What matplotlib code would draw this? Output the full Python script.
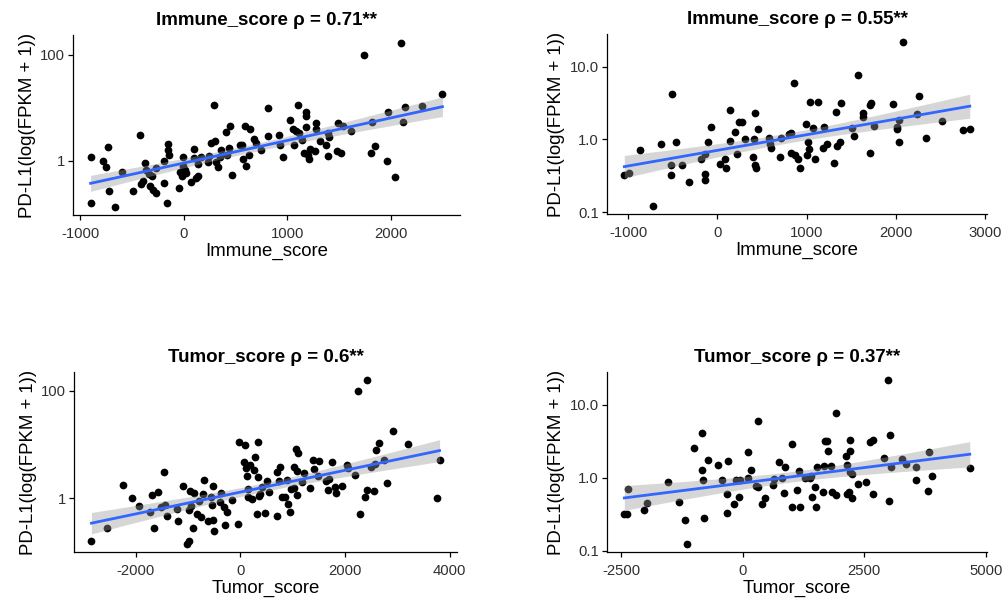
import numpy as np
import matplotlib
matplotlib.use("Agg")
import matplotlib.pyplot as plt
from matplotlib.ticker import FixedLocator, FixedFormatter, NullLocator

plt.rcParams['font.family'] = ['Liberation Sans', 'DejaVu Sans']
plt.rcParams['axes.unicode_minus'] = False

# ---- cohort A: immune score vs PD-L1 ----
immune_a = [-898, -898, -775, -749, -727, -717, -662, -598, -488, -423, -410, -391,
            -372, -359, -333, -326, -307, -294, -268, -268, -194, -191, -162, -152,
            -152, -145, -48, -36, -16, -10, 10, 23, -3, 74, 100, 103, 120, 139, 142,
            168, 239, 249, 268, 297, 304, 313, 333, 346, 362, 404, 420, 436, 452, 462,
            539, 565, 572, 591, 604, 630, 636, 675, 701, 746, 814, 817, 924, 931, 963,
            1030, 1056, 1062, 1088, 1101, 1114, 1140, 1159, 1179, 1185, 1185, 1198,
            1211, 1224, 1263, 1276, 1276, 1315, 1370, 1389, 1396, 1402, 1476, 1486,
            1518, 1541, 1612, 1741, 1806, 1815, 1851, 1961, 1970, 2041, 2093, 2116,
            2132, 2300, 2497]
pdl1_immune_a = [1.16, 0.16, 0.97, 0.75, 1.78, 0.27, 0.135, 0.60, 0.27, 3.0, 0.36, 0.41,
                 0.90, 0.68, 0.57, 0.33, 0.51, 0.28, 0.245, 0.73, 0.38, 0.97, 0.16, 2.1,
                 1.6, 1.26, 0.30, 0.60, 0.51, 1.2, 0.68, 0.58, 0.78, 0.39, 1.12, 1.7,
                 0.47, 0.51, 0.88, 1.17, 0.94, 1.21, 2.15, 11.2, 2.4, 0.93, 0.75, 1.2,
                 1.57, 3.5, 1.3, 1.73, 4.6, 0.54, 2.0, 1.95, 1.07, 4.6, 0.78, 1.3, 3.96,
                 2.6, 2.15, 1.57, 9.9, 2.9, 3.1, 1.95, 1.16, 5.8, 4.0, 2.0, 3.7, 11.1,
                 3.3, 2.5, 1.4, 7.1, 8.4, 4.3, 1.3, 1.07, 1.7, 1.5, 5.1, 4.0, 2.4, 2.0,
                 3.3, 1.24, 2.8, 1.5, 5.1, 1.4, 4.6, 3.6, 100, 1.4, 5.3, 1.9, 0.97, 8.2,
                 0.50, 166, 5.3, 10.4, 10.7, 18.1]

# ---- cohort B: immune score vs PD-L1 ----
immune_b = [-1042, -986, -867, -718, -633, -521, -514, -506, -465, -391, -313, -179,
            -141, -141, -141, -104, -67, 30, 82, 97, 138, 145, 197, 223, 242, 275,
            309, 402, 409, 421, 428, 435, 458, 577, 595, 607, 700, 718, 800, 823, 830,
            860, 875, 904, 923, 990, 1005, 1020, 1031, 1038, 1072, 1090, 1124, 1180,
            1191, 1228, 1303, 1329, 1340, 1370, 1385, 1507, 1537, 1571, 1630, 1638,
            1712, 1712, 1720, 1757, 1965, 2010, 2017, 2032, 2040, 2084, 2241, 2259,
            2337, 2516, 2754, 2829]
pdl1_immune_b = [0.32, 0.35, 0.71, 0.122, 0.85, 0.45, 0.32, 4.2, 0.91, 0.44, 0.26, 0.54,
                 0.62, 0.33, 0.28, 0.93, 1.46, 0.46, 0.54, 0.40, 0.96, 2.5, 1.27, 0.63,
                 1.75, 1.71, 1.0, 0.58, 1.0, 2.28, 0.44, 0.41, 1.39, 1.03, 0.86, 0.76,
                 0.57, 1.04, 1.18, 1.24, 0.64, 5.9, 0.60, 0.54, 0.40, 1.63, 0.60, 0.93,
                 0.74, 3.3, 1.42, 0.54, 3.3, 0.75, 1.46, 0.86, 0.47, 2.35, 0.82, 0.93,
                 3.2, 1.42, 1.1, 7.7, 2.3, 2.0, 3.0, 0.65, 3.2, 1.54, 3.1, 1.48, 1.39,
                 0.93, 1.87, 21.6, 2.23, 3.9, 1.03, 1.8, 1.36, 1.4]

# ---- cohort A: tumor score vs PD-L1 ----
tumor_a = [-2851, -2547, -2249, -2078, -1939, -1730, -1692, -1647, -1571, -1521, -1470,
           -1439, -1413, -1223, -1191, -1096, -1014, -982, -982, -963, -938, -906, -887,
           -823, -792, -760, -716, -690, -621, -564, -545, -532, -526, -513, -386, -367,
           -317, -304, -266, -158, -51, -32, 70, 89, 108, 127, 139, 146, 190, 222, 253,
           272, 317, 336, 336, 348, 380, 412, 463, 507, 551, 697, 703, 729, 760, 792,
           855, 887, 906, 938, 963, 1020, 1033, 1058, 1077, 1083, 1096, 1172, 1210,
           1330, 1394, 1413, 1489, 1501, 1628, 1666, 1692, 1742, 1806, 1818, 1945, 2046,
           2059, 2186, 2249, 2294, 2376, 2414, 2427, 2490, 2553, 2566, 2598, 2642, 2743,
           2801, 2908, 3212, 3751, 3808]
pdl1_tumor_a = [0.16, 0.28, 1.78, 0.99, 0.72, 0.56, 1.15, 0.28, 1.28, 0.67, 3.0, 0.75,
                0.47, 0.62, 0.38, 1.65, 0.14, 0.16, 0.60, 1.37, 0.72, 0.28, 1.22, 0.50,
                0.87, 0.45, 1.19, 2.18, 0.37, 1.03, 0.74, 1.65, 0.39, 0.24, 0.83, 1.22,
                0.67, 0.32, 0.54, 0.92, 0.33, 11.1, 4.7, 9.6, 3.65, 2.55, 1.47, 1.06, 4.2,
                0.96, 3.35, 5.8, 0.50, 11.2, 2.44, 1.11, 1.19, 1.58, 0.52, 2.05, 1.31,
                0.47, 3.1, 2.1, 3.8, 1.03, 1.06, 2.18, 0.79, 0.55, 1.47, 1.54, 3.87, 8.3,
                3.25, 1.15, 6.9, 1.97, 2.9, 1.52, 5.2, 3.5, 2.62, 5.0, 2.05, 1.41, 2.27,
                4.7, 1.58, 1.24, 1.70, 4.2, 3.65, 2.7, 98.6, 0.50, 1.06, 158, 1.41, 3.87,
                1.37, 4.3, 7.9, 10.6, 5.2, 1.88, 17.8, 10.4, 0.99, 5.2]

# ---- cohort B: tumor score vs PD-L1 ----
tumor_b = [-2434, -2386, -2352, -2032, -1977, -1534, -1309, -1180, -1139, -1009, -839,
           -839, -811, -798, -716, -511, -430, -327, -327, -307, -170, -143, -82, -48,
           102, 116, 170, 273, 314, 314, 389, 457, 614, 648, 750, 805, 852, 880, 1016,
           1016, 1111, 1166, 1180, 1275, 1384, 1411, 1432, 1480, 1514, 1520, 1657, 1677,
           1684, 1725, 1752, 1820, 1841, 1909, 1923, 2120, 2148, 2148, 2189, 2202, 2216,
           2216, 2243, 2250, 2366, 2543, 2611, 2679, 2679, 2911, 2979, 3007, 3034, 3048,
           3272, 3361, 3566, 3572, 3804, 3838, 3893, 4670]
pdl1_tumor_b = [0.32, 0.32, 0.71, 0.36, 0.45, 0.86, 0.46, 0.265, 0.124, 2.53, 1.26, 4.15,
                0.93, 0.28, 1.73, 1.48, 0.93, 0.59, 0.33, 1.71, 0.44, 0.93, 0.54, 0.93,
                1.0, 2.27, 1.26, 0.77, 5.9, 0.75, 0.43, 0.53, 0.79, 0.96, 1.66, 1.0, 0.62,
                1.40, 2.9, 0.40, 0.68, 1.24, 0.40, 0.98, 1.0, 1.07, 0.54, 0.75, 0.40, 1.40,
                0.64, 1.45, 3.15, 3.19, 2.35, 1.43, 0.64, 0.57, 7.6, 2.0, 1.48, 0.59, 0.63,
                3.26, 2.3, 1.2, 1.11, 0.53, 0.81, 0.86, 3.12, 3.26, 0.60, 1.86, 21.7, 0.48,
                3.85, 1.40, 1.82, 1.56, 1.40, 0.93, 0.66, 2.23, 1.04, 1.37]

titles = ["Immune_score \u03c1 = 0.71**", "Immune_score \u03c1 = 0.55**",
          "Tumor_score \u03c1 = 0.6**", "Tumor_score \u03c1 = 0.37**"]
xlabels = ["Immune_score", "Immune_score", "Tumor_score", "Tumor_score"]
ylabel = "PD-L1(log(FPKM + 1))"
xticks = [[-1000, 0, 1000, 2000], [-1000, 0, 1000, 2000, 3000],
          [-2000, 0, 2000, 4000], [-2500, 0, 2500, 5000]]
yticks_a = [1, 100]
ytick_labels_a = ["1", "100"]
yticks_b = [0.1, 1, 10]
ytick_labels_b = ["0.1", "1.0", "10.0"]

panels = [
    (immune_a, pdl1_immune_a, yticks_a, ytick_labels_a),
    (immune_b, pdl1_immune_b, yticks_b, ytick_labels_b),
    (tumor_a, pdl1_tumor_a, yticks_a, ytick_labels_a),
    (tumor_b, pdl1_tumor_b, yticks_b, ytick_labels_b),
]

# axes rectangles in figure fractions (left, bottom, width, height)
rects = [
    (0.0725, 0.6417, 0.3843, 0.300),
    (0.6028, 0.6433, 0.3774, 0.300),
    (0.0735, 0.0800, 0.3803, 0.300),
    (0.6028, 0.0800, 0.3774, 0.300),
]

fig = plt.figure(figsize=(10.07, 6.0), dpi=100)

for i, ((xv, yv, yt, ytl), rect) in enumerate(zip(panels, rects)):
    ax = fig.add_axes(rect)
    x = np.asarray(xv, dtype=float)
    y = np.asarray(yv, dtype=float)
    ly = np.log10(y)

    # least-squares fit on the log scale with 95% confidence band
    slope, intercept = np.polyfit(x, ly, 1)
    n = len(x)
    resid = ly - (slope * x + intercept)
    s = np.sqrt(np.sum(resid ** 2) / (n - 2))
    xs = np.linspace(x.min(), x.max(), 200)
    fit = slope * xs + intercept
    se = s * np.sqrt(1.0 / n + (xs - x.mean()) ** 2 / np.sum((x - x.mean()) ** 2))
    tcrit = 1.98

    ax.scatter(x, y, s=31, color="black", linewidths=0, zorder=2)
    ax.fill_between(xs, 10 ** (fit - tcrit * se), 10 ** (fit + tcrit * se),
                    color="#999999", alpha=0.4, linewidth=0, zorder=3)
    ax.plot(xs, 10 ** fit, color="#3366FF", linewidth=2.0, zorder=4)

    ax.set_yscale("log")
    xr = x.max() - x.min()
    ax.set_xlim(x.min() - 0.05 * xr, x.max() + 0.05 * xr)
    lr = ly.max() - ly.min()
    ax.set_ylim(10 ** (ly.min() - 0.05 * lr), 10 ** (ly.max() + 0.05 * lr))

    ax.xaxis.set_major_locator(FixedLocator(xticks[i]))
    ax.yaxis.set_major_locator(FixedLocator(yt))
    ax.yaxis.set_major_formatter(FixedFormatter(ytl))
    ax.yaxis.set_minor_locator(NullLocator())
    ax.xaxis.set_minor_locator(NullLocator())

    for side in ("top", "right"):
        ax.spines[side].set_visible(False)
    for side in ("left", "bottom"):
        ax.spines[side].set_linewidth(0.9)
    ax.tick_params(axis="both", which="major", length=3.5, width=0.9,
                   labelsize=10.7, color="black", labelcolor="#303030")
    ax.tick_params(axis="x", pad=5.0)
    ax.tick_params(axis="y", pad=2.5)

    ax.set_title(titles[i], fontsize=13.5, fontweight="bold", pad=7)
    ax.set_xlabel(xlabels[i], fontsize=13.4, labelpad=1.5)
    ax.set_ylabel(ylabel, fontsize=13.4, labelpad=3)

fig.savefig("out.png", dpi=100)
